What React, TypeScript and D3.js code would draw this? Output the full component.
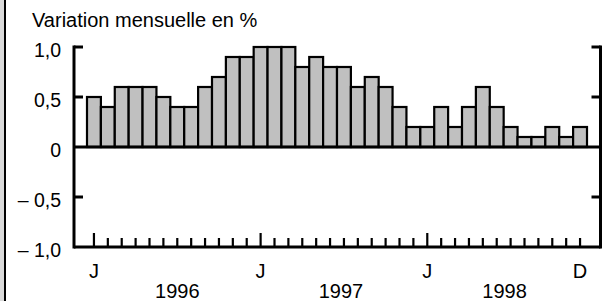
import { scaleBand, scaleLinear } from "d3";

const months = Array.from({ length: 36 }, (_, i) => i);
const values = [
  0.5, 0.4, 0.6, 0.6, 0.6, 0.5, 0.4, 0.4, 0.6, 0.7, 0.9, 0.9,
  1.0, 1.0, 1.0, 0.8, 0.9, 0.8, 0.8, 0.6, 0.7, 0.6, 0.4, 0.2,
  0.2, 0.4, 0.2, 0.4, 0.6, 0.4, 0.2, 0.1, 0.1, 0.2, 0.1, 0.2,
];
const yTicks = [1, 0.5, 0, -0.5, -1];
const yTickLabels = ["1,0", "0,5", "0", "\u2013 0,5", "\u2013 1,0"];
const monthLabels = [
  { index: 0, text: "J" },
  { index: 12, text: "J" },
  { index: 24, text: "J" },
  { index: 35, text: "D" },
];
const years = ["1996", "1997", "1998"];

const W = 602;
const H = 301;
const font = "Liberation Sans, Arial, sans-serif";

export default function App() {
  const x = scaleBand<number>().domain(months).range([87, 587]).padding(0);
  const y = scaleLinear().domain([-1, 1]).range([247, 47]);
  const axisLeft = 74;
  const axisRight = 600.5;
  const bw = x.bandwidth();
  const cx = (i: number) => (x(i) ?? 0) + bw / 2;

  return (
    <>
      <style>{`body{margin:0}`}</style>
      <svg width={W} height={H} style={{ display: "block", background: "#fff" }} fontFamily={font}>
        {/* left frame */}
        <rect x={0} y={0} width={4} height={H} fill="#d9d9d9" />
        <line x1={5} x2={5} y1={0} y2={H} stroke="#000" strokeWidth={2} />

        <text x={32} y={27} fontSize={20} fill="#000">
          Variation mensuelle en %
        </text>

        {/* bars */}
        {values.map((v, i) => (
          <rect
            key={i}
            x={x(i)}
            y={y(Math.max(0, v))}
            width={bw}
            height={Math.abs(y(v) - y(0))}
            fill="#c0c0c0"
            stroke="#000"
            strokeWidth={2.2}
          />
        ))}

        {/* zero line */}
        <line x1={axisLeft} x2={axisRight} y1={y(0)} y2={y(0)} stroke="#000" strokeWidth={3} />

        {/* y axes */}
        <line x1={axisLeft} x2={axisLeft} y1={y(1) - 1.5} y2={y(-1) + 1.5} stroke="#000" strokeWidth={3} />
        <line x1={axisRight} x2={axisRight} y1={y(1) - 1.5} y2={y(-1) + 1.5} stroke="#000" strokeWidth={3} />
        {yTicks.map((t, i) => (
          <g key={i}>
            {t !== 0 && t !== -1 && (
              <>
                <line x1={axisLeft} x2={axisLeft + 9} y1={y(t)} y2={y(t)} stroke="#000" strokeWidth={3} />
                <line x1={axisRight - 9} x2={axisRight} y1={y(t)} y2={y(t)} stroke="#000" strokeWidth={3} />
              </>
            )}
            <text x={61} y={y(t) + 9.5} fontSize={19.5} textAnchor="end" fill="#000">
              {yTickLabels[i]}
            </text>
          </g>
        ))}

        {/* bottom axis */}
        <line x1={axisLeft} x2={axisRight} y1={y(-1)} y2={y(-1)} stroke="#000" strokeWidth={3} />
        {months.map((m) => (
          <line
            key={m}
            x1={cx(m)}
            x2={cx(m)}
            y1={y(-1)}
            y2={y(-1) - (m % 12 === 0 ? 14 : 9)}
            stroke="#000"
            strokeWidth={2.2}
          />
        ))}
        {monthLabels.map((d, i) => (
          <text key={i} x={cx(d.index)} y={278} fontSize={20} textAnchor="middle" fill="#000">
            {d.text}
          </text>
        ))}
        {years.map((yr, i) => (
          <text key={yr} x={cx(i * 12 + 6) - i * 3} y={298} fontSize={20} textAnchor="middle" fill="#000">
            {yr}
          </text>
        ))}
      </svg>
    </>
  );
}
